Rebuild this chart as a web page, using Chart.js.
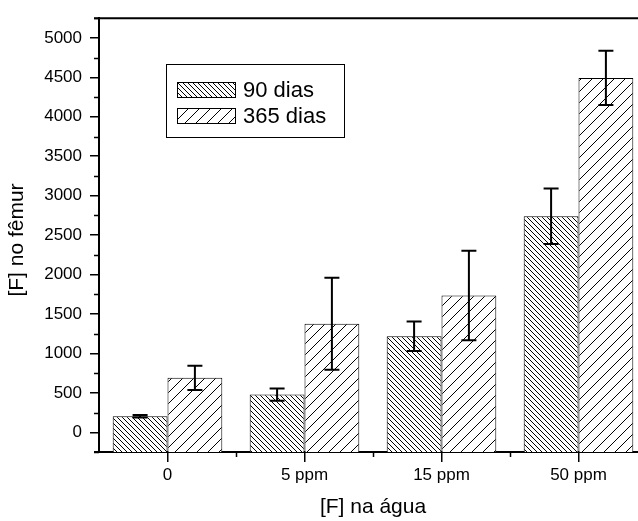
<!DOCTYPE html>
<html><head><meta charset="utf-8">
<script src="https://cdn.jsdelivr.net/npm/chart.js@4"></script>
<style>html,body{margin:0;padding:0;overflow:hidden;background:#fff}
#wrap{width:660px;height:521px;position:relative}</style>
</head><body><div id="wrap"><canvas id="c"></canvas></div>
<script>
const categories = ['0', '5 ppm', '15 ppm', '50 ppm'];
const seriesLabels = ['90 dias', '365 dias'];
const values90 = [203, 478, 1218, 2739];
const errors90 = [17, 77, 187, 353];
const values365 = [690, 1376, 1733, 4493];
const errors365 = [154, 582, 567, 343];
const yTicks = [0, 500, 1000, 1500, 2000, 2500, 3000, 3500, 4000, 4500, 5000];
const yMinorTicks = [-250, 250, 750, 1250, 1750, 2250, 2750, 3250, 3750, 4250, 4750, 5250];
const yMin = -250, yMax = 5250;
const xTitle = '[F] na água';
const yTitle = '[F] no fêmur';

const FONT = '"Liberation Sans", Arial, Helvetica, sans-serif';

function hatch(spacing, dir) {
  const c = document.createElement('canvas');
  c.width = c.height = spacing;
  const x = c.getContext('2d');
  x.fillStyle = '#fff'; x.fillRect(0, 0, spacing, spacing);
  x.strokeStyle = '#000'; x.lineWidth = 1;
  x.beginPath();
  if (dir === '/') {
    x.moveTo(-1, spacing + 1); x.lineTo(spacing + 1, -1);
    x.moveTo(-1, 1); x.lineTo(1, -1);
    x.moveTo(spacing - 1, spacing + 1); x.lineTo(spacing + 1, spacing - 1);
  } else {
    x.moveTo(-1, -1); x.lineTo(spacing + 1, spacing + 1);
    x.moveTo(spacing - 1, -1); x.lineTo(spacing + 1, 1);
    x.moveTo(-1, spacing - 1); x.lineTo(1, spacing + 1);
  }
  x.stroke();
  return x.createPattern(c, 'repeat');
}
const pat90 = hatch(5, '\\');
const pat365 = hatch(11, '/');

const errorBars = {
  id: 'errorBars',
  afterDatasetsDraw(chart) {
    const ctx = chart.ctx, ys = chart.scales.y;
    ctx.save();
    ctx.strokeStyle = '#000'; ctx.lineWidth = 2;
    chart.data.datasets.forEach((ds, i) => {
      const meta = chart.getDatasetMeta(i);
      meta.data.forEach((el, j) => {
        const v = ds.data[j], e = ds.errors[j];
        const x = el.x, t = ys.getPixelForValue(v + e), b = ys.getPixelForValue(v - e);
        ctx.beginPath();
        ctx.moveTo(x, t); ctx.lineTo(x, b);
        ctx.moveTo(x - 7.5, t); ctx.lineTo(x + 7.5, t);
        ctx.moveTo(x - 7.5, b); ctx.lineTo(x + 7.5, b);
        ctx.stroke();
      });
    });
    ctx.restore();
  }
};

const frame = {
  id: 'frame',
  afterDraw(chart) {
    const ctx = chart.ctx, a = chart.chartArea, ys = chart.scales.y, xs = chart.scales.x;
    ctx.save();
    ctx.strokeStyle = '#000';
    ctx.lineWidth = 2;
    ctx.beginPath(); ctx.moveTo(a.left - 5, a.top); ctx.lineTo(a.right + 2, a.top); ctx.stroke();
    ctx.beginPath(); ctx.moveTo(a.left - 5, a.bottom); ctx.lineTo(a.left, a.bottom); ctx.stroke();
    ctx.lineWidth = 1.5;
    yMinorTicks.forEach(v => {
      const y = Math.round(ys.getPixelForValue(v)) + 0.5;
      ctx.beginPath(); ctx.moveTo(a.left - 5, y); ctx.lineTo(a.left, y); ctx.stroke();
    });
    for (let i = 0; i < categories.length - 1; i++) {
      const x = Math.round((xs.getPixelForValue(i) + xs.getPixelForValue(i + 1)) / 2) + 0.5;
      ctx.beginPath(); ctx.moveTo(x, a.bottom); ctx.lineTo(x, a.bottom + 5); ctx.stroke();
    }
    // y axis title
    ctx.fillStyle = '#000';
    ctx.font = '21px ' + FONT;
    ctx.textAlign = 'center'; ctx.textBaseline = 'middle';
    ctx.translate(17, 240);
    ctx.rotate(-Math.PI / 2);
    ctx.fillText(yTitle, 0, 0);
    ctx.restore();
  }
};

const boxLegend = {
  id: 'boxLegend',
  afterDraw(chart) {
    const ctx = chart.ctx;
    ctx.save();
    ctx.strokeStyle = '#000'; ctx.lineWidth = 1;
    ctx.fillStyle = '#fff';
    ctx.fillRect(166.5, 64.5, 178, 73);
    ctx.strokeRect(166.5, 64.5, 178, 73);
    const rows = [82, 108];
    chart.data.datasets.forEach((ds, i) => {
      ctx.fillStyle = ds.backgroundColor;
      ctx.fillRect(177.5, rows[i] + 0.5, 58, 15);
      ctx.strokeRect(177.5, rows[i] + 0.5, 58, 15);
      ctx.fillStyle = '#000';
      ctx.font = '22px ' + FONT;
      ctx.textBaseline = 'middle';
      ctx.textAlign = 'left';
      ctx.fillText(ds.label, 243, rows[i] + 8.5);
    });
    ctx.restore();
  }
};

new Chart(document.getElementById('c'), {
  type: 'bar',
  data: {
    labels: categories,
    datasets: [
      { label: seriesLabels[0], data: values90, errors: errors90, backgroundColor: pat90,
        borderColor: '#000', borderWidth: 1, base: yMin },
      { label: seriesLabels[1], data: values365, errors: errors365, backgroundColor: pat365,
        borderColor: '#000', borderWidth: 1, base: yMin }
    ]
  },
  options: {
    responsive: true, maintainAspectRatio: false, animation: false,
    devicePixelRatio: 1,
    layout: { padding: { left: 0, top: 11, right: 13, bottom: 0 } },
    datasets: { bar: { categoryPercentage: 0.8, barPercentage: 1.0 } },
    plugins: { legend: { display: false }, tooltip: { enabled: false } },
    scales: {
      x: {
        grid: { display: true, drawOnChartArea: false, drawTicks: true, tickLength: 10, offset: false,
                color: '#000', lineWidth: 1.5 },
        border: { display: true, color: '#000', width: 2 },
        ticks: { color: '#000', font: { family: FONT, size: 17 }, padding: 3, maxRotation: 0 },
        title: { display: true, text: xTitle, color: '#000', font: { family: FONT, size: 21 },
                 padding: { top: 0, bottom: 1 } },
        afterFit(s) { s.height = 69; }
      },
      y: {
        min: yMin, max: yMax,
        afterBuildTicks(s) { s.ticks = yTicks.map(v => ({ value: v })); },
        grid: { display: true, drawOnChartArea: false, drawTicks: true, tickLength: 9,
                color: '#000', lineWidth: 1.5 },
        border: { display: true, color: '#000', width: 2 },
        ticks: { color: '#000', font: { family: FONT, size: 17 }, padding: 8,
                 callback: v => String(v) },
        title: { display: false },
        afterFit(s) { s.width = 99; }
      }
    }
  },
  plugins: [errorBars, frame, boxLegend]
});
</script>
</body></html>
